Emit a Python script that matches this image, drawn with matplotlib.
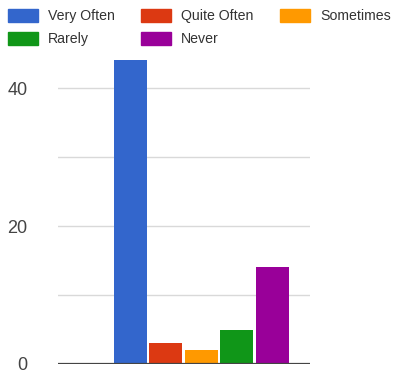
import matplotlib.pyplot as plt
import matplotlib.patches as mpatches

plt.rcParams["font.family"] = ["Liberation Sans", "DejaVu Sans"]

labels = ["Very Often", "Quite Often", "Sometimes", "Rarely", "Never"]
counts = [44, 3, 2, 5, 14]
colors = ["#3366cc", "#dc3912", "#ff9900", "#109618", "#990099"]

fig = plt.figure(figsize=(3.97, 3.76), dpi=100)
ax = fig.add_axes([58 / 397, 12 / 376, 252 / 397, 307 / 376])

x = list(range(len(counts)))
ax.bar(x, counts, width=0.93, color=colors, zorder=3)

ax.set_xlim(-2.03, 5.07)
ax.set_ylim(0, 44.5)
ax.set_yticks([0, 20, 40])
ax.set_yticks([10, 30], minor=True)
ax.yaxis.grid(True, which="both", color="#d9d9d9", linewidth=1, zorder=0)
ax.axhline(0, color="#444444", linewidth=1.6, zorder=4)

ax.set_xticks([])
ax.tick_params(axis="y", which="both", length=0, pad=22, labelsize=13, labelcolor="#444444")
for s in ax.spines.values():
    s.set_visible(False)

# column-major order so rows read: Very Often / Quite Often / Sometimes, then Rarely / Never
order = [0, 3, 1, 4, 2]
handles = [mpatches.Patch(color=colors[i], label=labels[i]) for i in order]
fig.legend(handles=handles, ncol=3, loc="upper left", bbox_to_anchor=(8 / 397, 1 - 9 / 376),
           frameon=False, fontsize=10.2, handlelength=2.1, handleheight=1.05,
           handletextpad=0.7, columnspacing=1.9, labelspacing=0.6,
           borderaxespad=0, borderpad=0, labelcolor="#333333")

fig.savefig("out.png", dpi=100)
